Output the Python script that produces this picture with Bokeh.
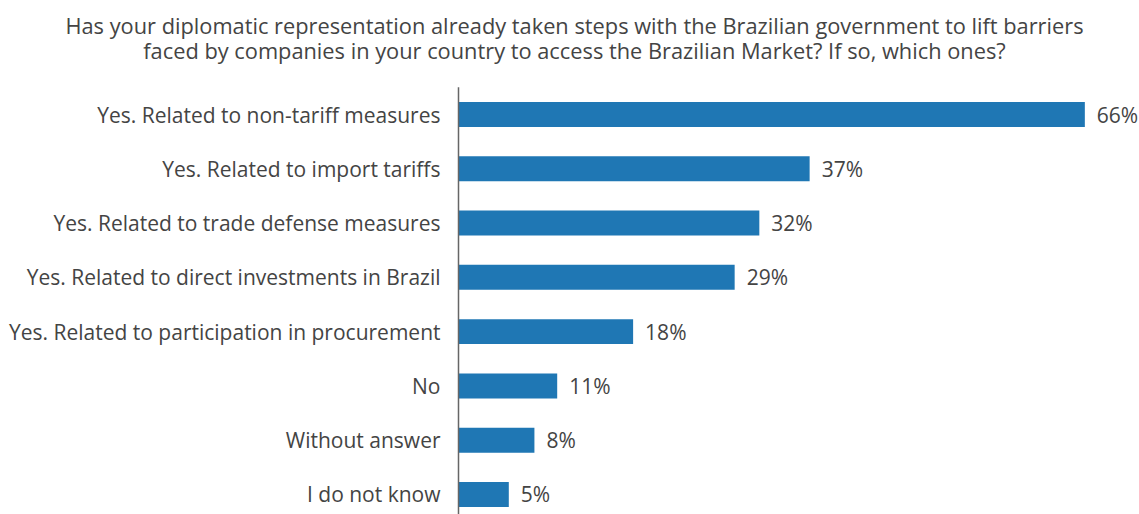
from bokeh.plotting import figure
from bokeh.models import ColumnDataSource, Range1d
from bokeh.embed import file_html
from bokeh.resources import INLINE

categories = [
    "Yes. Related to non-tariff measures",
    "Yes. Related to import tariffs",
    "Yes. Related to trade defense measures",
    "Yes. Related to direct investments in Brazil",
    "Yes. Related to participation in procurement",
    "No",
    "Without answer",
    "I do not know",
]
# bar lengths (labels show the rounded figures)
values = [66.0, 37.0, 31.7, 29.1, 18.4, 10.4, 8.0, 5.3]
labels = ["66%", "37%", "32%", "29%", "18%", "11%", "8%", "5%"]
title_lines = [
    "Has your diplomatic representation already taken steps with the Brazilian government to lift barriers",
    "faced by companies in your country to access the Brazilian Market? If so, which ones?",
]

FONT = {"value": "Open Sans"}
TXT = "#444444"
positions = list(range(len(categories)))

# ---- canvas geometry (pixels) ----
W, H = 1139, 514
AXIS_X = 458        # pixel where value 0 sits
PX_PER_PCT = 9.49   # horizontal scale
FIRST_Y = 114       # pixel centre of first category
STEP = 54.28        # pixels per category

x_start = -AXIS_X / PX_PER_PCT
x_end = (W - AXIS_X) / PX_PER_PCT
y_top = -FIRST_Y / STEP
y_bottom = (H - FIRST_Y) / STEP

p = figure(width=W, height=H, output_backend="svg", toolbar_location=None,
           x_range=Range1d(x_start, x_end), y_range=Range1d(y_bottom, y_top),
           min_border=0)
p.axis.visible = False
p.grid.visible = False
p.outline_line_color = None

src = ColumnDataSource(dict(y=positions, v=values, lab=labels, cat=categories,
                            zero=[0] * len(values)))

# bars
p.hbar(y="y", right="v", left=0, height=0.46, source=src, color="#1f77b4", line_color=None)
# value labels
p.text(x="v", y="y", text="lab", source=src, x_offset=12, text_baseline="middle",
       text_align="left", text_font_size="21px", text_color=TXT, text_font=FONT)
# category labels (vertical axis labels)
p.text(x="zero", y="y", text="cat", source=src, x_offset=-18, text_baseline="middle",
       text_align="right", text_font_size="21px", text_color=TXT, text_font=FONT)
# vertical axis line
p.segment(x0=0, x1=0, y0=-0.5, y1=y_bottom, line_color="#666666", line_width=1.5)

# title (two centred lines)
title_px_x = 574
title_px_y = [25, 50]
tsrc = ColumnDataSource(dict(
    x=[(title_px_x - AXIS_X) / PX_PER_PCT] * 2,
    y=[(py - FIRST_Y) / STEP for py in title_px_y],
    t=title_lines))
p.text(x="x", y="y", text="t", source=tsrc, text_align="center", text_baseline="middle",
       text_font=FONT, text_font_size="21.8px", text_color=TXT)

open("out.html", "w").write(file_html(p, INLINE))
